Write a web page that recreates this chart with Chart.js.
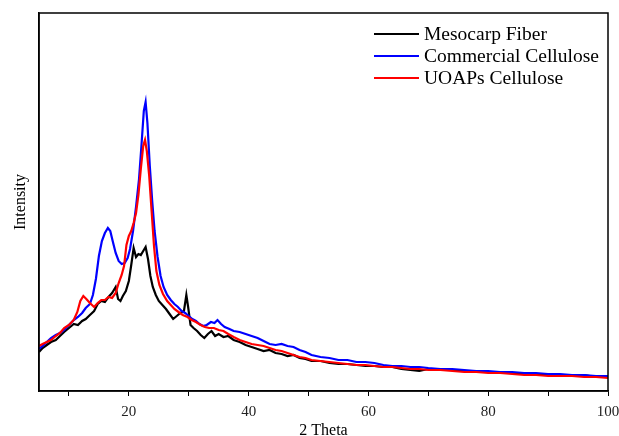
<!DOCTYPE html>
<html>
<head>
<meta charset="utf-8">
<script src="https://cdn.jsdelivr.net/npm/chart.js@4"></script>
<style>
  html, body { margin: 0; padding: 0; background: #fff; }
  #wrap { width: 619px; height: 436px; }
</style>
</head>
<body>
<div id="wrap"><canvas id="myChart" width="619" height="436"></canvas></div>
<script>
// 2 theta positions and intensities (arbitrary units)
const thetaBlack = [5,5.6,6.3,7,7.8,8.5,9.2,10,10.8,11.5,12.2,12.8,13.5,14.2,14.8,15.4,16,16.6,17.2,17.8,18.2,18.6,19,19.5,20,20.4,20.8,21.2,21.6,22,22.4,22.8,23.2,23.6,24,24.5,25,25.6,26.2,26.8,27.4,28,28.6,29.2,29.6,29.9,30.3,30.8,31.4,32,32.6,33.2,33.8,34.4,35,35.8,36.6,37.5,38.5,39.5,40.5,41.5,42.5,43.5,44.5,45.5,46.5,47.5,48.5,49.5,50.5,52,53.5,55,56.5,58,59.5,61,62.5,64,65.5,67,68.5,70,72,74,76,78,80,82,84,86,88,90,92,94,96,98,100];
const mesocarp = [39,43,46,49,51,55,59,63,67,66,70,72,76,80,87,90,89,94,98,104,92,90,95,100,110,126,143,134,137,136,140,144,132,115,104,96,90,86,82,77,72,75,78,80,96,84,66,63,60,56,53,57,60,55,57,54,55,51,49,46,44,42,40,41,38,37,35,36,33,32,30,30,28,27,27,26,25,25,24,24,22,21,20,22,21,21,20,19,19,18,18,17,17,16,16,15,16,14,14];

const thetaBlue = [5,5.6,6.3,7,7.8,8.5,9.2,10,10.8,11.5,12.2,12.8,13.5,14,14.5,15,15.5,16,16.5,16.9,17.3,17.8,18.3,18.8,19.3,19.8,20.2,20.7,21.2,21.7,22.1,22.5,22.8,23.1,23.5,23.9,24.3,24.8,25.3,25.8,26.4,27,27.6,28.2,28.8,29.4,30,30.6,31.2,31.8,32.4,33,33.7,34.3,34.8,35.4,36,36.8,37.5,38.5,39.5,40.5,41.5,42.5,43.5,44.5,45.5,46.5,47.5,48.5,49.5,50.5,52,53.5,55,56.5,58,59.5,61,62.5,64,65.5,67,68.5,70,72,74,76,78,80,82,84,86,88,90,92,94,96,98,100];
const commercial = [42,45,49,53,56,58,61,66,71,74,78,83,87,96,112,135,150,158,163,160,150,138,130,127,128,133,142,160,184,212,245,280,289,268,225,190,160,134,115,104,96,91,87,84,80,78,75,72,70,67,65,66,69,68,71,67,64,62,60,59,57,55,53,50,47,46,47,45,44,41,39,36,34,33,31,31,29,29,28,26,25,25,24,24,23,22,22,21,20,20,19,19,18,18,17,17,16,16,15,15];

const thetaRed = [5,5.6,6.3,7,7.8,8.5,9.2,10,10.8,11.4,11.9,12.4,12.9,13.5,14.2,14.8,15.4,16,16.6,17.2,17.8,18.3,18.8,19.2,19.6,20,20.4,20.8,21.2,21.6,22,22.4,22.7,23,23.4,23.8,24.2,24.6,25.1,25.7,26.4,27,27.6,28.3,29,29.8,30.5,31.2,32,32.7,33.4,34.2,35,35.8,36.6,37.5,38.5,39.5,40.5,41.5,42.5,43.5,44.5,45.5,46.5,47.5,48.5,49.5,50.5,52,53.5,55,56.5,58,59.5,61,62.5,64,65.5,67,68.5,70,72,74,76,78,80,82,84,86,88,90,92,94,96,98,100];
const uoaps = [45,47,49,51,55,58,63,66,71,79,90,95,92,88,84,88,91,91,94,93,98,108,116,125,146,155,160,168,178,196,222,245,251,240,215,180,145,120,106,97,90,86,82,79,76,74,71,69,66,64,63,63,61,60,57,54,51,49,47,46,45,43,41,40,38,36,34,33,31,30,29,28,27,26,26,25,24,24,23,22,22,21,21,20,19,19,18,18,17,16,16,15,15,15,14,14,13];

const seriesNames = ['Mesocarp Fiber', 'Commercial Cellulose', 'UOAPs Cellulose'];
const seriesColors = ['#000000', '#0000ff', '#ff0000'];
const xTicks = [20, 40, 60, 80, 100];

function pts(xs, ys) {
  return xs.map((x, i) => ({x: x, y: ys[i]}));
}

// frame round the plot + legend drawn inside the plot
const framePlugin = {
  id: 'frame',
  afterDraw(chart) {
    const c = chart.ctx;
    const a = chart.chartArea;
    c.save();
    c.strokeStyle = '#000';
    c.lineWidth = 1.5;
    c.strokeRect(a.left, a.top, a.right - a.left, a.bottom - a.top);
    c.font = '19.5px "Liberation Serif", "DejaVu Serif", serif';
    c.textBaseline = 'middle';
    c.fillStyle = '#000';
    for (let i = 0; i < seriesNames.length; i++) {
      const y = 34 + i * 22;
      c.strokeStyle = seriesColors[i];
      c.lineWidth = 2;
      c.beginPath();
      c.moveTo(374, y);
      c.lineTo(419, y);
      c.stroke();
      c.fillText(seriesNames[i], 424, y + 1);
    }
    c.restore();
  }
};

const ctx = document.getElementById('myChart');
const myChart = new Chart(ctx, {
  type: 'line',
  data: {
    datasets: [
      {label: seriesNames[0], data: pts(thetaBlack, mesocarp), borderColor: seriesColors[0], order: 3},
      {label: seriesNames[1], data: pts(thetaBlue, commercial), borderColor: seriesColors[1], order: 2},
      {label: seriesNames[2], data: pts(thetaRed, uoaps), borderColor: seriesColors[2], order: 1},
    ],
  },
  options: {
    responsive: false,
    animation: false,
    layout: {padding: {top: 13, right: 11, left: 0, bottom: 0}},
    elements: {
      line: {borderWidth: 2.2, tension: 0, fill: false},
      point: {radius: 0},
    },
    plugins: {
      legend: {display: false},
      tooltip: {enabled: false},
    },
    scales: {
      x: {
        type: 'linear',
        min: 5,
        max: 100,
        afterBuildTicks(s) {
          s.ticks = [10, 20, 30, 40, 50, 60, 70, 80, 90, 100].map(v => ({value: v}));
        },
        afterFit(s) {
          s.height = 45;
          s.paddingLeft = 0;
          s.paddingRight = 0;
        },
        grid: {drawOnChartArea: false, tickLength: 5, color: '#000', tickWidth: 1},
        border: {display: true, color: '#000', width: 1.5},
        ticks: {
          color: '#222',
          padding: 7,
          maxRotation: 0,
          font: {family: '"Liberation Serif", serif', size: 15},
          callback: v => (xTicks.includes(v) ? String(v) : ''),
        },
        title: {
          display: true,
          text: '2 Theta',
          color: '#000',
          padding: {top: 0, bottom: -4},
          font: {family: '"Liberation Serif", serif', size: 16},
        },
      },
      y: {
        min: 0,
        max: 378,
        afterFit(s) { s.width = 39; },
        grid: {display: false},
        border: {display: true, color: '#000', width: 1.5},
        ticks: {display: false},
        title: {
          display: true,
          text: 'Intensity',
          color: '#000',
          padding: {top: 11, bottom: 0},
          font: {family: '"Liberation Serif", serif', size: 16},
        },
      },
    },
  },
  plugins: [framePlugin],
});
</script>
</body>
</html>
